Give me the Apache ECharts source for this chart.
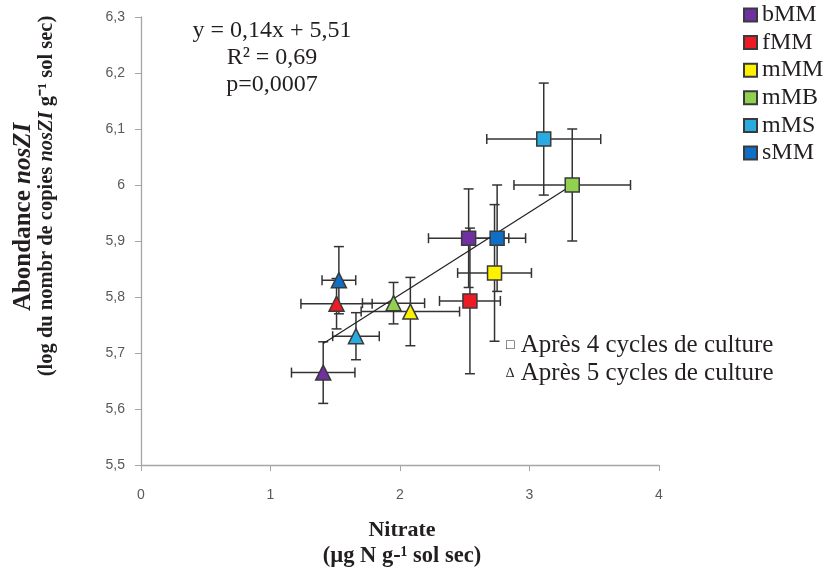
<!DOCTYPE html>
<html>
<head>
<meta charset="utf-8">
<script src="https://cdn.jsdelivr.net/npm/echarts@6/dist/echarts.min.js"></script>
<style>
  html, body { margin: 0; background: #fff; }
  #chart { width: 829px; height: 572px; }
</style>
</head>
<body>
<div id="chart"></div>
<script>
const groups = ['bMM', 'fMM', 'mMM', 'mMB', 'mMS', 'sMM']
const colors = ['#7030a0', '#ed1c24', '#fff200', '#92d050', '#29abe2', '#0f6fc6']

// apres 4 cycles (carres)
const c4X = [2.53, 2.54, 2.73, 3.33, 3.11, 2.75]
const c4Y = [5.905, 5.793, 5.843, 6.0, 6.082, 5.905]
const c4Xerr = [0.31, 0.235, 0.285, 0.45, 0.44, 0.22]
const c4Yerr = [0.088, 0.13, 0.122, 0.10, 0.10, 0.095]

// apres 5 cycles (triangles)
const c5X = [1.407, 1.51, 2.08, 1.95, 1.66, 1.528]
const c5Y = [5.665, 5.788, 5.774, 5.789, 5.730, 5.830]
const c5Xerr = [0.245, 0.275, 0.38, 0.24, 0.18, 0.13]
const c5Yerr = [0.055, 0.045, 0.061, 0.037, 0.042, 0.06]

// droite de regression tracee
const trendX = [1.407, 3.33]
const trendY = [5.717, 6.0]

const xTicks = [0, 1, 2, 3, 4]
const yTicks = [5.5, 5.6, 5.7, 5.8, 5.9, 6.0, 6.1, 6.2, 6.3]

const serif = '"Liberation Serif", "Times New Roman", serif'
const ink = '#231f20'

const errData = []
groups.forEach((g, i) => {
  errData.push([c4X[i], c4Y[i], c4Xerr[i], c4Yerr[i]])
  errData.push([c5X[i], c5Y[i], c5Xerr[i], c5Yerr[i]])
})

function renderErr(params, api) {
  const x = api.value(0), y = api.value(1), xe = api.value(2), ye = api.value(3)
  const l = api.coord([x - xe, y]), r = api.coord([x + xe, y])
  const t = api.coord([x, y + ye]), b = api.coord([x, y - ye])
  const cap = 5
  const style = { stroke: '#333', lineWidth: 1.5 }
  const line = (x1, y1, x2, y2) => ({ type: 'line', shape: { x1, y1, x2, y2 }, style })
  return {
    type: 'group',
    children: [
      line(l[0], l[1], r[0], r[1]),
      line(l[0], l[1] - cap, l[0], l[1] + cap),
      line(r[0], r[1] - cap, r[0], r[1] + cap),
      line(t[0], t[1], b[0], b[1]),
      line(t[0] - cap, t[1], t[0] + cap, t[1]),
      line(b[0] - cap, b[1], b[0] + cap, b[1])
    ]
  }
}

const scatterSeries = groups.map((g, i) => ({
  name: g,
  type: 'scatter',
  z: 5,
  itemStyle: { color: colors[i], borderColor: '#3a3a3a', borderWidth: 1.5, opacity: 1 },
  data: [
    { value: [c4X[i], c4Y[i]], symbol: 'rect', symbolSize: 14 },
    { value: [c5X[i], c5Y[i]], symbol: 'triangle', symbolSize: 15 }
  ]
}))

const chart = echarts.init(document.getElementById('chart'))
chart.setOption({
  animation: false,
  grid: { left: 141, top: 17, right: 170, bottom: 107 },
  legend: {
    orient: 'vertical',
    left: 743,
    top: 3,
    padding: 0,
    icon: 'rect',
    itemWidth: 13,
    itemHeight: 13,
    itemGap: 3.6,
    textStyle: { fontFamily: serif, fontSize: 24, lineHeight: 24, color: ink },
    data: groups
  },
  xAxis: {
    type: 'value',
    min: xTicks[0],
    max: xTicks[xTicks.length - 1],
    interval: 1,
    axisLine: { lineStyle: { color: '#a6a6a6', width: 1.3 } },
    axisTick: { show: true, length: 6, lineStyle: { color: '#a6a6a6' } },
    axisLabel: { margin: 23, fontFamily: '"Liberation Sans", sans-serif', fontSize: 14, color: '#595959' },
    splitLine: { show: false }
  },
  yAxis: {
    type: 'value',
    min: yTicks[0],
    max: yTicks[yTicks.length - 1],
    interval: 0.1,
    axisLine: { show: true, lineStyle: { color: '#a6a6a6', width: 1.3 } },
    axisTick: { show: true, length: 6, lineStyle: { color: '#a6a6a6' } },
    axisLabel: {
      margin: 16,
      fontFamily: '"Liberation Sans", sans-serif',
      fontSize: 14,
      color: '#595959',
      formatter: v => String(+v.toFixed(1)).replace('.', ',')
    },
    splitLine: { show: false }
  },
  series: [
    {
      type: 'custom',
      z: 2,
      silent: true,
      renderItem: renderErr,
      data: errData
    },
    {
      type: 'line',
      z: 3,
      symbol: 'none',
      silent: true,
      lineStyle: { color: ink, width: 1.2 },
      data: trendX.map((x, i) => [x, trendY[i]])
    },
    ...scatterSeries
  ],
  graphic: [
    {
      type: 'text',
      style: {
        x: 272, y: 17, align: 'center',
        text: 'y = 0,14x + 5,51\nR² = 0,69\np=0,0007',
        font: '24px ' + serif, lineHeight: 27, fill: ink
      }
    },
    {
      type: 'text',
      style: {
        x: 506, y: 331,
        text: '{s|□} Après 4 cycles de culture\n{s|∆} Après 5 cycles de culture',
        font: '25px ' + serif, lineHeight: 28, fill: ink,
        rich: { s: { fontSize: 14, fontFamily: serif, fill: ink } }
      }
    },
    {
      type: 'text',
      x: 24, y: 217, rotation: Math.PI / 2,
      style: {
        text: '{b|Abondance }{i|nosZI}',
        align: 'center', verticalAlign: 'middle',
        rich: {
          b: { fontFamily: serif, fontWeight: 'bold', fontSize: 25, fill: ink },
          i: { fontFamily: serif, fontWeight: 'bold', fontStyle: 'italic', fontSize: 25, fill: ink }
        }
      }
    },
    {
      type: 'text',
      x: 47, y: 196, rotation: Math.PI / 2,
      style: {
        text: '{b|(log du nombr de copies }{i|nosZI}{b| g⁻¹ sol sec)}',
        align: 'center', verticalAlign: 'middle',
        rich: {
          b: { fontFamily: serif, fontWeight: 'bold', fontSize: 20.5, fill: ink },
          i: { fontFamily: serif, fontWeight: 'bold', fontStyle: 'italic', fontSize: 20.5, fill: ink }
        }
      }
    },
    {
      type: 'text',
      style: {
        x: 402, y: 530, align: 'center', verticalAlign: 'middle',
        text: 'Nitrate', font: 'bold 22px ' + serif, fill: ink
      }
    },
    {
      type: 'text',
      style: {
        x: 402, y: 556, align: 'center', verticalAlign: 'middle',
        text: '(µg N g-¹ sol sec)', font: 'bold 22.5px ' + serif, fill: ink
      }
    }
  ]
})
</script>
</body>
</html>
